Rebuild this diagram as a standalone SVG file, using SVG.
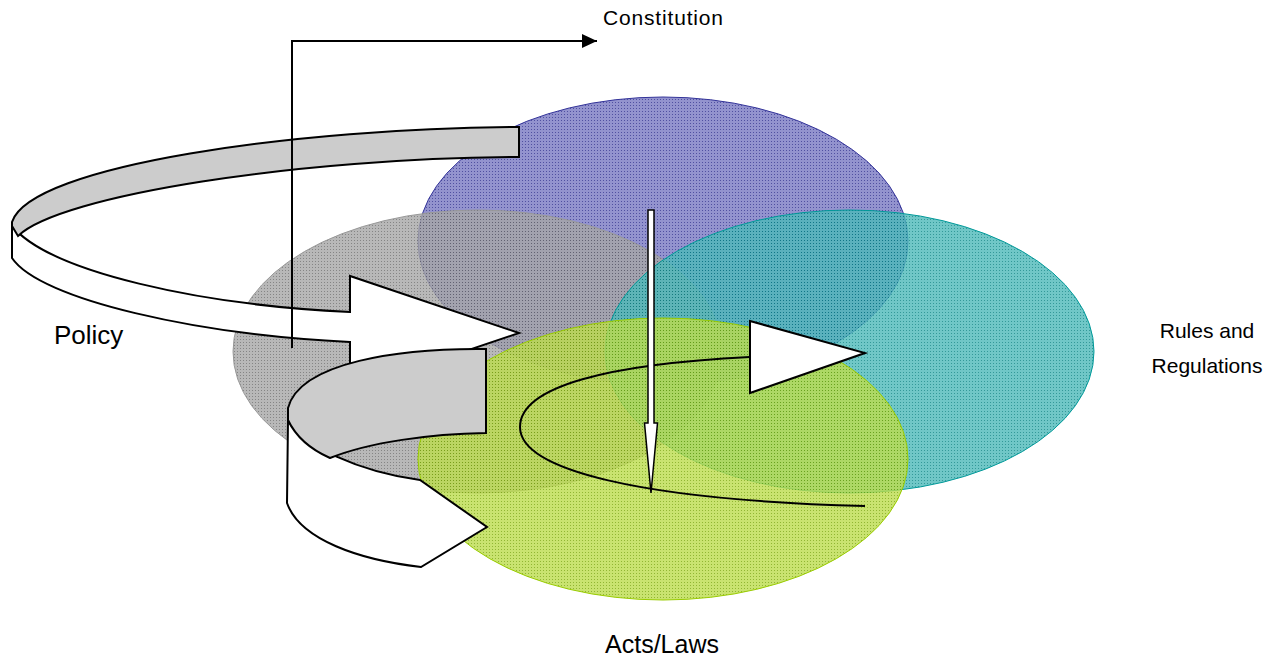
<svg xmlns="http://www.w3.org/2000/svg" width="1275" height="659" viewBox="0 0 1275 659">
  <defs>
    <pattern id="pPurple" width="3" height="3" patternUnits="userSpaceOnUse">
      <rect width="3" height="3" fill="#7878c2"/>
      <rect width="1" height="1" fill="#24248a"/>
    </pattern>
    <pattern id="pGray" width="3" height="3" patternUnits="userSpaceOnUse">
      <rect width="3" height="3" fill="#a6a6a6"/>
      <rect width="1" height="1" fill="#666666"/>
    </pattern>
    <pattern id="pTeal" width="3" height="3" patternUnits="userSpaceOnUse">
      <rect width="3" height="3" fill="#4cb9b9"/>
      <rect width="1" height="1" fill="#008080"/>
    </pattern>
    <pattern id="pGreen" width="3" height="3" patternUnits="userSpaceOnUse">
      <rect width="3" height="3" fill="#bcdc4c"/>
      <rect width="1" height="1" fill="#76a400"/>
    </pattern>
    <marker id="arrowBlack" markerWidth="16" markerHeight="14" refX="15" refY="7" orient="auto" markerUnits="userSpaceOnUse">
      <path d="M0,0 L15,7 L0,14 Z" fill="#000"/>
    </marker>
  </defs>
  <style>
    .ell { stroke-width: 1; fill-opacity: 0.8; }
    .band { stroke: #000; stroke-width: 2; stroke-linejoin: miter; }
    .white { fill: #ffffff; }
    .grey { fill: #cccccc; }
    .lbl { font-family: "Liberation Sans", Arial, sans-serif; fill: #000; }
    .conn { fill: none; stroke: #000; stroke-width: 2; }
  </style>

  <g id="node-constitution-ellipse">
    <ellipse class="ell" cx="663" cy="241" rx="245" ry="144" fill="url(#pPurple)" stroke="#333399"/>
  </g>
  <g id="node-policy-ellipse">
    <ellipse class="ell" cx="477.5" cy="351.5" rx="244.5" ry="141.5" fill="url(#pGray)" stroke="#999999"/>
  </g>
  <g id="node-rules-ellipse">
    <ellipse class="ell" cx="849.5" cy="351.5" rx="244.5" ry="141.5" fill="url(#pTeal)" stroke="#009999"/>
  </g>
  <g id="node-acts-ellipse">
    <ellipse class="ell" cx="663" cy="459" rx="245" ry="141" fill="url(#pGreen)" stroke="#99cc00"/>
  </g>

  <g id="policy-arrow">
    <path class="band white" d="M12,226 C50,272 200,305 350,312 L350,276 L519,333 L350,390 L350,342 C200,335 40,300 12,258 Z"/>
    <path class="band grey" d="M519,127 L519,157 C300,158 60,195 18,236 L12,226 L12,222 C30,165 300,128 519,127 Z"/>
  </g>

  <g id="acts-arrow">
    <path class="band white" d="M288,420 C300,445 360,472 420,480 L487,527 L421,567 C360,560 300,540 287,503 Z"/>
    <path class="band grey" d="M486,349 L486,433 C430,434 370,442 330,458 C312,450 296,437 288,420 L288,408 C300,362 400,348 486,349 Z"/>
  </g>

  <g id="connectors">
    <path class="conn" d="M292,348 L292,41 L597,41" marker-end="url(#arrowBlack)"/>
    <path class="conn" stroke-width="3.5" d="M750,357 C610,364 520,386 520,427 C520,470 640,500 865,506"/>
    <path class="band white" d="M750,321 L865,353 L750,393 Z"/>
    <path class="white" stroke="#000" stroke-width="1.5" d="M648,210 L654,210 L654,423 L657.5,423 L651,493 L644.5,423 L648,423 Z"/>
  </g>

  <g id="labels">
    <text class="lbl" x="663" y="25" font-size="21" text-anchor="middle" textLength="120" lengthAdjust="spacing">Constitution</text>
    <text class="lbl" x="54" y="344" font-size="26">Policy</text>
    <text class="lbl" x="1207" y="338" font-size="21" text-anchor="middle">Rules and</text>
    <text class="lbl" x="1207" y="373" font-size="21" text-anchor="middle">Regulations</text>
    <text class="lbl" x="662" y="653" font-size="25" text-anchor="middle">Acts/Laws</text>
  </g>
</svg>
